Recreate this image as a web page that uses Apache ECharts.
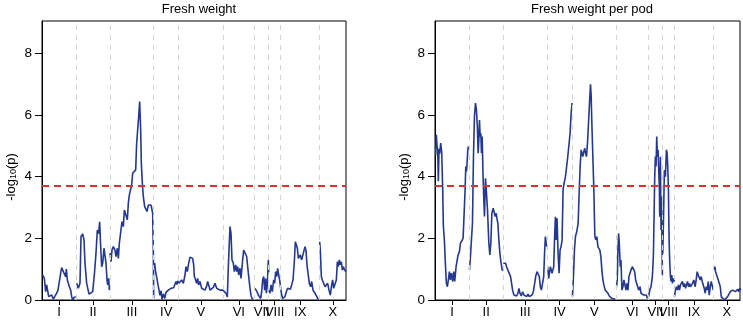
<!DOCTYPE html>
<html><head><meta charset="utf-8">
<script src="https://cdn.jsdelivr.net/npm/echarts@6/dist/echarts.min.js"></script>
<style>html,body{margin:0;padding:0;background:#fff}#c{width:743px;height:323px}</style>
</head><body><div id="c"></div>
<script>
const chromosomes = ['I','II','III','IV','V','VI','VII','VIII','IX','X'];
const chrLengths = [102,102,131,75,133,95,42,36,117,79];
const threshold = 3.7;
const yTicks = [0,2,4,6,8];
const titles = ['Fresh weight','Fresh weight per pod'];

// [position within chromosome, -log10(p)] per chromosome
const freshWeight = [
 [[2,0.81],[7,0.70],[11,0.27],[14,0.49],[17,0.54],[20,0.11],[24,0.05],[29,0.16],[34,0.03],[39,0.02],[44,0.22],[48,0.32],[52,0.6],[56,0.87],[59,1.05],[64,0.92],[68,0.97],[71,0.76],[73,1.0],[76,0.65],[79,0.70],[82,0.43],[86,0.32],[89,0.11],[92,0],[96,0.08],[101,0.11]],
 [[2,0.54],[7,0.38],[12,0.54],[15,2.06],[20,2.14],[24,1.95],[27,1.19],[32,0.54],[39,0.19],[45,0.14],[50,0.27],[55,0.81],[60,1.52],[64,2.27],[68,2.16],[71,2.54],[74,1.73],[77,1.08],[80,1.19],[84,1.68],[87,1.62],[90,1.19],[93,0.65],[95,0.49],[98,0.70],[100,0.32]],
 [[0,1.52],[3,1.24],[6,1.62],[10,1.73],[15,1.62],[18,1.41],[22,1.68],[25,1.35],[28,1.84],[32,1.89],[36,2.54],[40,2.38],[43,2.92],[48,2.87],[52,2.6],[55,3.14],[58,3.41],[62,3.46],[65,3.73],[68,4.11],[73,4.17],[77,4.22],[80,5.09],[83,5.14],[86,5.95],[89,6.44],[92,5.52],[94,4.44],[97,3.79],[100,3.35],[104,3.03],[108,2.98],[111,2.87],[115,3.08],[120,3.14],[123,3.08],[126,2.92],[128,2.81],[130,1.6],[131,0.05]],
 [[3,1.2],[6,0.9],[9,0.75],[12,0.55],[15,0.38],[19,0.15],[22,0.3],[25,0.02],[29,0.2],[33,0.05],[37,0.25],[41,0.2],[44,0.32],[48,0.28],[52,0.38],[56,0.35],[60,0.4],[64,0.45],[67,0.6],[70,0.5],[72,0.62],[75,0.55]],
 [[0,0.54],[4,0.6],[9,0.65],[14,0.54],[19,0.81],[22,1.08],[26,0.92],[30,1.19],[34,1.39],[39,1.43],[42,1.35],[45,1.14],[47,0.76],[51,0.65],[54,0.54],[57,0.7],[60,0.49],[64,0.6],[69,0.38],[74,0.43],[79,0.32],[84,0.45],[87,0.6],[91,0.45],[94,0.32],[99,0.27],[104,0.41],[109,0.54],[114,0.38],[119,0.32],[124,0.32],[129,0.27],[133,0.32]],
 [[0,0.32],[5,0.27],[10,0.2],[13,0.1],[16,1.08],[21,2.38],[24,2.16],[27,1.3],[31,1.19],[34,0.92],[38,1.14],[41,0.92],[44,1.08],[47,0.81],[51,1.03],[54,0.7],[58,1.19],[62,1.62],[66,1.68],[71,1.41],[76,0.87],[81,0.38],[84,0.15],[87,0.05],[90,0.02]],
 [[1,0.38],[4,0.43],[7,0.27],[11,0.16],[14,0.1],[18,0.05],[21,0.27],[24,0.65],[27,0.76],[30,0.32],[33,0.7],[35,0.22],[38,0.49],[41,1.3],[42,0.9]],
 [[1,0.32],[4,0.22],[7,0.49],[11,0.27],[15,0.65],[18,0.54],[21,0.92],[24,0.76],[27,1.03],[30,0.81],[33,0.65],[36,0.38]],
 [[0,0.38],[3,0.16],[6,0.05],[10,0.02],[13,0.11],[17,0.27],[21,0.38],[25,0.41],[29,0.35],[33,0.49],[37,0.65],[41,1.24],[44,1.89],[47,1.84],[50,1.68],[53,1.35],[56,1.35],[59,1.46],[63,1.3],[66,1.24],[69,1.35],[73,1.73],[76,1.6],[79,1.14],[82,0.87],[86,0.54],[90,0.43],[93,0.6],[97,0.32],[100,0.38],[103,0.22],[107,0.27],[111,0.05],[114,0]],
 [[0,1.89],[2,1.62],[5,0.76],[8,0.65],[12,0.7],[16,0.43],[20,0.38],[24,0.54],[28,0.32],[32,0.16],[36,0.49],[39,0.65],[42,0.38],[46,0.32],[50,0.65],[53,1.24],[56,1.08],[59,1.3],[62,1.14],[65,1.24],[68,0.97],[71,1.08],[75,0.97],[79,0.92]]
];

const freshWeightPerPod = [
 [[2,4.7],[4,5.36],[6,5.0],[8,4.9],[10,3.85],[12,4.9],[14,4.75],[17,5.09],[20,4.8],[23,3.6],[25,2.4],[28,1.95],[31,1.19],[34,0.54],[37,0.43],[40,0.65],[43,0.92],[46,0.65],[49,0.87],[53,0.6],[56,0.92],[59,0.6],[63,1.08],[66,1.14],[69,1.46],[73,1.57],[76,1.84],[80,1.89],[84,2.0],[87,2.06],[90,3.57],[92,4.33],[94,4.17],[96,4.44],[98,4.87],[100,4.98]],
 [[1,0.97],[4,1.41],[7,1.46],[10,2.49],[13,4.65],[16,5.95],[19,6.39],[22,6.17],[25,5.52],[27,4.76],[29,5.19],[31,5.84],[33,5.3],[35,5.41],[37,4.76],[39,5.3],[42,3.9],[44,3.25],[46,2.71],[49,3.95],[52,3.46],[55,2.92],[59,1.84],[62,1.46],[65,1.84],[68,2.81],[72,2.98],[75,3.03],[78,2.71],[81,2.81],[84,2.6],[86,2.49],[89,1.95],[92,1.52],[95,1.24],[99,0.97],[102,0.97]],
 [[0,1.19],[3,1.24],[7,1.19],[10,1.08],[14,0.97],[18,0.92],[22,0.76],[25,0.54],[28,0.32],[32,0.16],[36,0.11],[40,0.13],[44,0.22],[47,0.38],[50,0.22],[54,0.13],[58,0.27],[62,0.16],[66,0.22],[70,0.11],[74,0.19],[78,0.11],[82,0.05],[86,0.16],[90,0.27],[94,0.54],[97,0.76],[101,0.92],[105,0.97],[108,0.76],[111,0.43],[114,0.32],[118,0.32],[121,0.76],[124,1.62],[126,2.06],[129,1.79],[131,1.73]],
 [[2,1.08],[5,0.7],[10,1.08],[15,0.87],[20,1.08],[23,2.16],[25,2.7],[27,1.95],[30,2.65],[33,1.52],[36,0.87],[39,1.62],[42,1.73],[45,1.95],[48,3.57],[50,3.73],[52,3.68],[55,4.0],[58,4.27],[61,4.55],[65,4.98],[69,5.41],[72,6.06],[75,6.39]],
 [[1,0.11],[4,0.76],[7,1.62],[10,2.06],[14,2.22],[18,2.49],[21,3.46],[24,4.33],[27,4.87],[30,4.82],[32,4.65],[35,4.82],[38,4.92],[40,4.76],[43,4.65],[46,5.09],[49,5.74],[52,6.39],[55,7.0],[57,6.6],[59,5.74],[62,4.65],[65,3.57],[68,2.06],[71,1.95],[74,2.06],[77,1.73],[80,1.79],[83,1.62],[86,1.41],[89,0.97],[92,0.65],[95,0.49],[99,0.32],[103,0.27],[107,0.22],[111,0.13],[115,0.09],[119,0.05],[124,0.05],[129,0.02]],
 [[0,0.43],[2,0.65],[4,1.62],[6,2.16],[8,1.84],[11,1.08],[13,1.3],[16,0.32],[19,0.43],[22,0.65],[25,0.6],[28,0.32],[31,0.54],[34,0.32],[37,0.76],[40,0.87],[43,0.97],[47,1.08],[51,1.14],[54,0.92],[57,0.65],[60,0.7],[63,0.43],[66,0.32],[70,0.43],[73,0.22],[77,0.27],[81,0.16],[85,0.22],[89,0.16],[92,0.05],[94,0.05]],
 [[1,0.11],[4,0.32],[8,0.43],[12,0.76],[15,1.41],[17,2.7],[19,4.0],[21,4.65],[23,4.33],[25,5.3],[27,4.65],[29,4.87],[31,4.22],[33,3.57],[34,2.7],[36,4.65],[37,3.35],[38,2.27],[39,3.35],[40,2.49],[41,1.73],[42,0.8]],
 [[1,1.5],[3,2.49],[5,3.68],[6,4.22],[9,4.0],[12,4.87],[14,4.76],[16,4.33],[18,3.57],[19,2.7],[20,1.95],[22,1.19],[24,0.76],[26,0.6],[28,0.81],[30,0.54],[32,0.7],[34,0.6],[36,0.65]],
 [[0,0.11],[3,0.32],[6,0.43],[9,0.32],[12,0.49],[15,0.32],[18,0.49],[21,0.43],[24,0.6],[27,0.43],[30,0.54],[33,0.38],[36,0.49],[39,0.6],[42,0.43],[45,0.54],[48,0.43],[51,0.43],[54,0.54],[58,0.65],[62,0.43],[65,0.65],[68,0.92],[71,0.81],[74,0.76],[77,0.65],[80,0.76],[83,0.6],[86,0.65],[89,0.38],[92,0.22],[95,0.43],[98,0.32],[101,0.6],[104,0.16],[107,0.43],[110,0.6],[113,0.65],[116,0.32]],
 [[2,0.97],[4,1.08],[6,0.92],[8,0.97],[11,0.87],[14,0.65],[17,0.6],[20,0.43],[23,0.11],[27,0.05],[32,0.0],[37,0.05],[42,0.11],[47,0.16],[50,0.27],[54,0.22],[57,0.32],[61,0.38],[65,0.27],[68,0.32],[72,0.35],[75,0.27],[78,0.38],[81,0.32]]
];

const offsets = [];
let acc = 0;
chrLengths.forEach(l => { offsets.push(acc); acc += l; });
const total = acc;
const centers = offsets.map((o, i) => o + chrLengths[i] / 2);
const bounds = offsets.slice(1);

function build(byChr) {
  const out = [];
  byChr.forEach((pts, i) => {
    pts.forEach(p => out.push([offsets[i] + p[0], p[1]]));
    if (i < byChr.length - 1) out.push([offsets[i + 1], '-']);
  });
  return out;
}
function romanFor(v) {
  const i = centers.findIndex(c => Math.abs(c - v) < 1e-6);
  return i >= 0 ? chromosomes[i] : '';
}

const FONT = 'Liberation Sans, Arial, sans-serif';
const gridsPx = [{left: 42, right: 397}, {left: 435, right: 3}];
const panels = [freshWeight, freshWeightPerPod];

const option = {
  animation: false,
  textStyle: {fontFamily: FONT},
  title: titles.map((t, i) => ({
    text: t,
    left: i === 0 ? 194 : 587,
    textAlign: 'center',
    top: -2,
    textStyle: {fontSize: 13, fontWeight: 'normal', color: '#000', fontFamily: FONT}
  })),
  grid: gridsPx.map(g => ({left: g.left, right: g.right, top: 21, bottom: 23, show: true, borderColor: '#000', borderWidth: 1, backgroundColor: 'transparent'})),
  xAxis: gridsPx.map((g, i) => ({
    type: 'value', gridIndex: i, min: 0, max: total,
    axisLine: {show: true, onZero: false, lineStyle: {color: '#000', width: 1}},
    axisTick: {show: true, customValues: centers, length: 5, lineStyle: {color: '#000'}},
    axisLabel: {show: true, customValues: centers, formatter: v => romanFor(v), margin: 6, fontSize: 13, color: '#000', fontFamily: FONT},
    splitLine: {show: false}
  })),
  yAxis: gridsPx.map((g, i) => ({
    type: 'value', gridIndex: i, min: 0, max: 9.05,
    axisLine: {show: true, lineStyle: {color: '#000', width: 1}},
    axisTick: {show: true, customValues: yTicks, length: 7, lineStyle: {color: '#000'}},
    axisLabel: {show: true, customValues: yTicks, margin: 10, fontSize: 13.5, color: '#000', fontFamily: FONT},
    splitLine: {show: false},
    name: '{a|-log}{s|10}{a|(p)}',
    nameLocation: 'middle',
    nameGap: 24,
    nameRotate: 90,
    nameTextStyle: {
      padding: [0, 33, 0, 0],
      rich: {
        a: {fontSize: 13, color: '#000', fontFamily: FONT},
        s: {fontSize: 9, color: '#000', fontFamily: FONT, padding: [5, 0, 0, 0]}
      }
    }
  })),
  series: []
};

panels.forEach((p, i) => {
  option.series.push({
    type: 'line', xAxisIndex: i, yAxisIndex: i, data: [], z: 1, silent: true,
    markLine: {
      symbol: ['none', 'none'], silent: true, animation: false, label: {show: false},
      lineStyle: {color: '#d4d4d0', type: [5, 5], width: 1},
      emphasis: {disabled: true},
      data: bounds.map(b => ({xAxis: b}))
    }
  });
  option.series.push({
    type: 'line', xAxisIndex: i, yAxisIndex: i, z: 3,
    data: build(p), showSymbol: false, symbol: 'none', connectNulls: false,
    lineStyle: {color: '#24388f', width: 1.6}, silent: true
  });
  option.series.push({
    type: 'line', xAxisIndex: i, yAxisIndex: i, data: [], z: 4, silent: true,
    markLine: {
      symbol: ['none', 'none'], silent: true, animation: false, label: {show: false},
      lineStyle: {color: '#e0302c', type: [7, 5], width: 2},
      emphasis: {disabled: true},
      data: [{yAxis: threshold}]
    }
  });
});

const chart = echarts.init(document.getElementById('c'), null, {renderer: 'canvas'});
chart.setOption(option);
</script>
</body></html>
